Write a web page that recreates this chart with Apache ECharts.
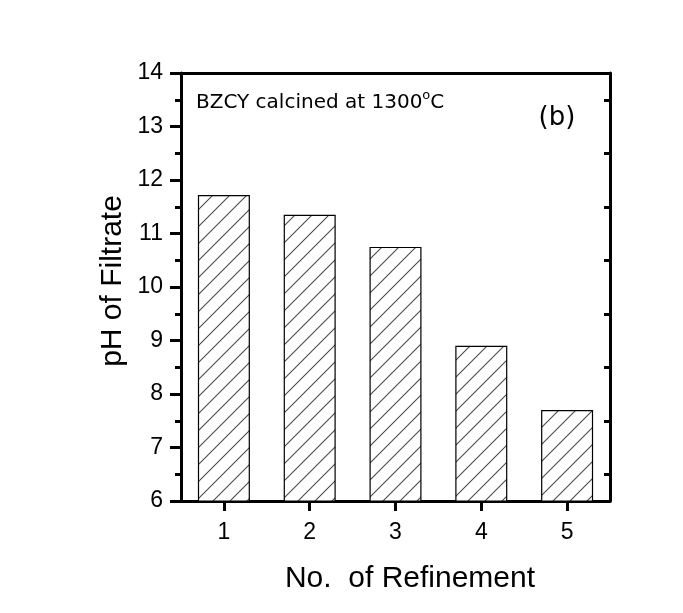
<!DOCTYPE html>
<html>
<head>
<meta charset="utf-8">
<script src="https://cdn.jsdelivr.net/npm/echarts@6/dist/echarts.min.js"></script>
<style>html,body{margin:0;padding:0;background:#fff}#c{width:683px;height:613px}</style>
</head>
<body>
<div id="c"></div>
<script>
var categories = ['1', '2', '3', '4', '5'];
var phValues = [11.72, 11.35, 10.75, 8.9, 7.7];
var yTicks = [6, 7, 8, 9, 10, 11, 12, 13, 14];
var xTitle = 'No.  of Refinement';
var yTitle = 'pH of Filtrate';

function hatch() {
  var s = 17;
  var cv = document.createElement('canvas');
  cv.width = s; cv.height = s;
  var ctx = cv.getContext('2d');
  ctx.fillStyle = '#fff';
  ctx.fillRect(0, 0, s, s);
  ctx.strokeStyle = '#4a4a4a';
  ctx.lineWidth = 1.1;
  ctx.beginPath();
  ctx.moveTo(-2, s + 2); ctx.lineTo(s + 2, -2);
  ctx.moveTo(-2, 2); ctx.lineTo(2, -2);
  ctx.moveTo(s - 2, s + 2); ctx.lineTo(s + 2, s - 2);
  ctx.stroke();
  return cv;
}

var chart = echarts.init(document.getElementById('c'));
var axisLine = { show: true, lineStyle: { color: '#000', width: 3 } };
chart.setOption({
  animation: false,
  grid: { left: 181, right: 73, top: 73, bottom: 112 },
  xAxis: [{
    type: 'category', data: categories, position: 'bottom',
    axisLine: axisLine,
    axisTick: { show: true, alignWithLabel: true, length: 10, lineStyle: { width: 3, color: '#000' } },
    axisLabel: { fontSize: 23, color: '#000', fontFamily: 'Liberation Sans', margin: 20 }
  }, {
    type: 'category', data: categories, position: 'top',
    axisLine: axisLine, axisTick: { show: false }, axisLabel: { show: false }
  }],
  yAxis: [{
    type: 'value', min: yTicks[0], max: yTicks[yTicks.length - 1], interval: 1, position: 'left',
    axisLine: axisLine,
    axisTick: { show: true, length: 11, lineStyle: { width: 3, color: '#000' } },
    minorTick: { show: true, splitNumber: 2, length: 6, lineStyle: { width: 3, color: '#000' } },
    splitLine: { show: false },
    axisLabel: { fontSize: 23, color: '#000', fontFamily: 'Liberation Sans', margin: 18 }
  }, {
    type: 'value', min: yTicks[0], max: yTicks[yTicks.length - 1], interval: 1, position: 'right',
    axisLine: axisLine,
    axisTick: { show: false, inside: true, length: 6 },
    minorTick: { show: true, splitNumber: 2, length: 6, lineStyle: { width: 3, color: '#000' } },
    splitLine: { show: false },
    axisLabel: { show: false }
  }],
  series: [{
    type: 'bar', data: phValues, barWidth: 52, xAxisIndex: 0, yAxisIndex: 0,
    itemStyle: { color: { image: hatch(), repeat: 'repeat' }, borderColor: '#000', borderWidth: 1.2 }
  }],
  graphic: [
    { type: 'text', x: 113, y: 281, rotation: Math.PI / 2,
      style: { text: yTitle, fontSize: 30, fontFamily: 'Liberation Sans', fill: '#000', align: 'center', verticalAlign: 'middle' } },
    { type: 'text', x: 410, y: 579,
      style: { text: xTitle, fontSize: 30, fontFamily: 'Liberation Sans', fill: '#000', align: 'center', verticalAlign: 'middle' } },
    { type: 'text', x: 196, y: 103,
      style: { text: 'BZCY calcined at 1300{s|o}C', fontSize: 20, fontFamily: 'DejaVu Sans', fill: '#000', verticalAlign: 'middle',
        rich: { s: { fontSize: 13, fontFamily: 'DejaVu Sans', verticalAlign: 'top', padding: [0, 0, 14, 0] } } } },
    { type: 'text', x: 557, y: 118,
      style: { text: '(b)', fontSize: 26, fontFamily: 'DejaVu Sans', fill: '#000', align: 'center', verticalAlign: 'middle' } }
  ]
});
</script>
</body>
</html>
